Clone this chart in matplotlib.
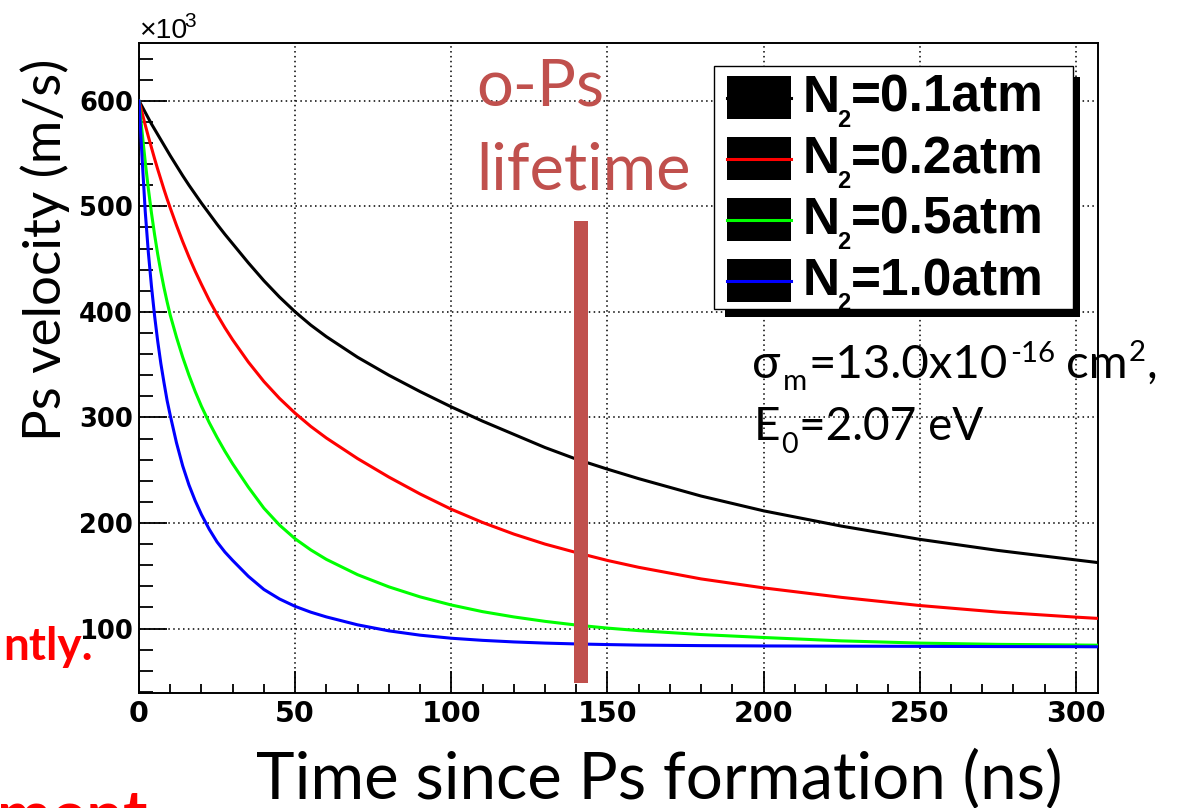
import matplotlib
matplotlib.use("Agg")
import matplotlib.pyplot as plt
from matplotlib.patches import Rectangle
from matplotlib.lines import Line2D
from matplotlib.ticker import MultipleLocator

plt.rcParams['mathtext.default'] = 'regular'

# ---------------- data ----------------
time_ns = [0, 1, 2, 3, 4, 5, 6, 7, 8, 9, 10, 12, 14, 16, 18, 20, 22.5, 25, 27.5, 30,
           35, 40, 45, 50, 55, 60, 70, 80, 90, 100, 110, 120, 130, 140, 150, 160,
           180, 200, 225, 250, 275, 300, 307]
# Ps velocity in units of 10^3 m/s
v_n2_01 = [600, 594.5, 589, 583.5, 578, 573, 568, 563, 558, 553, 548,
           538.5, 529, 520, 511.5, 503, 493, 483, 473.5, 464.5,
           446.5, 429.5, 414, 400, 387.5, 376.5,
           357, 340, 324.5, 310, 296.5, 284, 271.5, 260.5, 251, 242,
           225.5, 211.5, 197, 184.5, 174, 165, 162.5]
v_n2_02 = [600, 588.5, 577, 566, 555.5, 545, 535, 525.5, 516, 507, 498.5,
           482, 466.5, 452, 438.5, 426, 411, 397.5, 385, 373.5,
           352.5, 334, 318, 304, 291.5, 280.5,
           261, 243.5, 227.5, 213, 200.5, 189.5, 180, 172, 164.5, 158,
           147, 138.5, 129.5, 121.8, 115.6, 110.8, 109.6]
v_n2_05 = [600, 570, 542, 516.5, 493.5, 473, 454.5, 438, 423, 409.5, 397,
           376, 357, 340, 324.5, 310.5, 295, 281, 268, 256,
           234, 214, 198, 185, 174.5, 165.5,
           151, 139.5, 130, 122.3, 116, 111, 106.8, 103.3, 100.4, 98,
           94.3, 91.5, 88.3, 86.2, 85, 84.4, 84.2]
v_n2_10 = [600, 545, 495, 456, 424, 396, 372, 351, 333, 316, 302,
           276, 254, 236, 221, 208, 194, 182, 172.5, 164.5,
           149.5, 137, 128, 121, 115.5, 111,
           103.5, 97.8, 93.7, 90.8, 88.8, 87.3, 86.2, 85.4, 84.8, 84.3,
           83.8, 83.5, 83.3, 83.1, 82.9, 82.8, 82.7]
series_values = [v_n2_01, v_n2_02, v_n2_05, v_n2_10]
series_labels = ["=0.1atm", "=0.2atm", "=0.5atm", "=1.0atm"]
series_colors = ["#000000", "#ff0000", "#00ff00", "#0000ff"]

x_ticks = [0, 50, 100, 150, 200, 250, 300]
y_ticks = [100, 200, 300, 400, 500, 600]
x_range = (0, 307)
y_range = (39.2, 655)

lifetime_ns = 141.5
lifetime_bar_low = 48.6
lifetime_bar_high = 486

# ---------------- figure ----------------
W, H, DPI = 1177, 808, 100
fig = plt.figure(figsize=(W / DPI, H / DPI), dpi=DPI)
fig.patch.set_facecolor("white")


def fx(px):
    return px / W


def fy(py):
    return 1 - py / H


L, R, T, B = 139, 1097.7, 42.7, 692.7
ax = fig.add_axes([fx(L), fy(B), (R - L) / W, (B - T) / H])
ax.set_xlim(*x_range)
ax.set_ylim(*y_range)
ax.set_axisbelow(True)
ax.grid(True, which="major", color="black", linestyle=(0, (1, 2.2)), linewidth=1.1)

for vals, col in zip(series_values, series_colors):
    ax.plot(time_ns, vals, color=col, linewidth=2.2, solid_joinstyle="round",
            solid_capstyle="round", zorder=3)

ax.bar([lifetime_ns], [lifetime_bar_high - lifetime_bar_low], bottom=[lifetime_bar_low],
       width=4.3, color="#C0504D", zorder=5)

ax.set_xticks(x_ticks)
ax.set_yticks(y_ticks)
ax.set_xticklabels([str(v) for v in x_ticks])
ax.set_yticklabels([str(v) for v in y_ticks])
ax.xaxis.set_minor_locator(MultipleLocator(10))
ax.yaxis.set_minor_locator(MultipleLocator(20))
ax.tick_params(axis="x", which="major", direction="in", length=16, width=1.3, pad=5.5,
               top=False, labelsize=20.5)
ax.tick_params(axis="x", which="minor", direction="in", length=6.7, width=1.3, top=False)
ax.tick_params(axis="y", which="major", direction="in", length=20, width=1.3, pad=4.3,
               right=False, labelsize=18.5)
ax.tick_params(axis="y", which="minor", direction="in", length=10, width=1.3, right=False)
for lab in ax.get_xticklabels() + ax.get_yticklabels():
    lab.set_fontfamily("DejaVu Sans")
    lab.set_fontweight("bold")
for sp in ax.spines.values():
    sp.set_linewidth(1.4)
    sp.set_color("black")

calibri_like = ["Lato", "DejaVu Sans"]
helv = ["Liberation Sans", "DejaVu Sans"]

fig.canvas.draw()
renderer = fig.canvas.get_renderer()


def fit(t, target, vertical=False):
    bb = t.get_window_extent(renderer=renderer)
    cur = bb.height if vertical else bb.width
    t.set_fontsize(t.get_fontsize() * target / cur)


def place_run(x0, base, pieces, size, family, color="black"):
    """Place text pieces one after another; pieces = (text, scale, rise_px, gap_px)."""
    x = x0
    made = []
    for txt, scale, rise, gap in pieces:
        x += gap
        t = fig.text(fx(x), fy(base - rise), txt, ha="left", va="baseline",
                     family=family, fontsize=size * scale, color=color)
        made.append(t)
        x += t.get_window_extent(renderer=renderer).width
    return made, x - x0


def fitted_run(x0, base, pieces, size, family, target, color="black"):
    made, w = place_run(x0, base, pieces, size, family, color)
    for t in made:
        t.remove()
    size = size * target / w
    place_run(x0, base, pieces, size, family, color)
    return size


# axis labels
xl = fig.text(fx(659), fy(798), "Time since Ps formation (ns)", ha="center", va="baseline",
              family=calibri_like, fontsize=50)
fit(xl, 806)
yl = fig.text(fx(61), fy(250), "Ps velocity (m/s)", rotation=90, rotation_mode="anchor",
              ha="center", va="baseline", family=calibri_like, fontsize=40)
fit(yl, 382, vertical=True)

# x10^3 multiplier
fig.text(fx(139), fy(38), "\u00d710", ha="left", va="baseline", family=helv, fontsize=20.5)
fig.text(fx(184), fy(27), "3", ha="left", va="baseline", family=helv, fontsize=15)

# o-Ps lifetime annotation
ops_col = "#C0504D"
t1 = fig.text(fx(476), fy(105), "o-Ps", ha="left", va="baseline", family=calibri_like,
              fontsize=46, color=ops_col)
t2 = fig.text(fx(476), fy(189), "lifetime", ha="left", va="baseline", family=calibri_like,
              fontsize=46, color=ops_col)
fit(t2, 215)
t1.set_fontsize(t2.get_fontsize())

# parameter annotation
sz = fitted_run(754, 440, [("E", 1, 0, 0), ("0", 0.62, -13, 1), ("=2.07 eV", 1, 0, 1)],
                32, calibri_like, 230)
fitted_run(752, 378, [("\u03c3", 1, 0, 0), ("m", 0.62, -12, 3), ("=13.0x10", 1, 0, 1),
                      ("-16", 0.62, 16, 2), ("cm", 1, 0, 11), ("2", 0.62, 17, 1),
                      (",", 1, 0, 1)],
           sz, calibri_like, 406)

# legend (ROOT style, drawn manually)
shadow = Rectangle((fx(725), fy(317)), (1080 - 725) / W, (317 - 77) / H,
                   transform=fig.transFigure, facecolor="black", edgecolor="none", zorder=10)
box = Rectangle((fx(714), fy(309)), (1073 - 714) / W, (309 - 66) / H,
                transform=fig.transFigure, facecolor="white", edgecolor="black",
                linewidth=1.0, zorder=11)
fig.add_artist(shadow)
fig.add_artist(box)
step = 61
for i, (lab, col) in enumerate(zip(series_labels, series_colors)):
    top = 76 + i * step
    sw = Rectangle((fx(727), fy(top + 43)), (791 - 727) / W, 43 / H,
                   transform=fig.transFigure, facecolor="black", edgecolor="none", zorder=12)
    fig.add_artist(sw)
    cy = fy(top + 21.5)
    fig.add_artist(Line2D([fx(727), fx(791)], [cy, cy], transform=fig.transFigure,
                          color=col, linewidth=2.2, zorder=13))
    base = 112 + i * step
    fig.text(fx(802.5), fy(base), "N", ha="left", va="baseline", family=helv,
             fontweight="bold", fontsize=37, zorder=14)
    fig.text(fx(837), fy(base + 15), "2", ha="left", va="baseline", family=helv,
             fontweight="bold", fontsize=17, zorder=14)
    fig.text(fx(850.5), fy(base), lab, ha="left", va="baseline", family=helv,
             fontweight="bold", fontsize=37, zorder=14)

# red slide text fragments cut by the picture border
fig.text(fx(93), fy(660), "ntly.", ha="right", va="baseline",
         family=calibri_like, fontweight="bold", fontsize=33, color="#ff0000")
fig.text(fx(-3), fy(837), "ment", ha="left", va="baseline",
         family=calibri_like, fontweight="bold", fontsize=47, color="#ff0000")

fig.savefig("out.png", dpi=DPI, facecolor="white")
